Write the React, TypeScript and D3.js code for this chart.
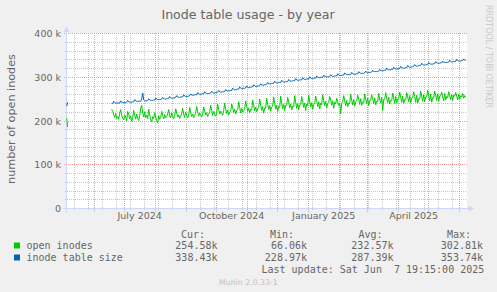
import React from "react";
import * as d3 from "d3";

const W = 497;
const H = 292;

const END = new Date(Date.UTC(2025, 5, 7, 19, 15));
const START = new Date(END.getTime() - 400 * 864e5);
const SERIES_START = new Date(Date.UTC(2024, 5, 18));
const EARLY_START = new Date(Date.UTC(2024, 4, 4));
const FIRST_MINOR = new Date(Date.UTC(2024, 4, 12));

const title = "Inode table usage - by year";
const yAxisLabel = "number of open inodes";
const seriesNames = ["open inodes", "inode table size"];
const seriesColors = ["#00CC00", "#0066B3"];

// values in thousands, one per day
const openEarly = [206, 186];
const sizeEarly = [234, 243];

const openInodes = [
  227, 222, 214, 208, 217, 206, 210,
  204, 218, 226, 212, 207, 203, 214,
  209, 200, 222, 215, 205, 211, 199,
  207, 224, 213, 204, 216, 206, 201,
  212, 229, 236, 218, 209, 221, 208,
  213, 205, 227, 214, 203, 198, 210,
  206, 219, 209, 201, 196, 212, 204,
  208, 222, 213, 205, 215, 207, 210,
  216, 226, 211, 207, 219, 210, 205,
  213, 228, 218, 209, 214, 206, 211,
  217, 229, 215, 208, 220, 212, 207,
  214, 231, 219, 210, 216, 208, 213,
  219, 233, 221, 211, 218, 213, 209,
  216, 232, 222, 214, 219, 210, 215,
  221, 236, 224, 213, 222, 215, 211,
  218, 238, 226, 216, 223, 217, 213,
  224, 241, 228, 217, 225, 214, 220,
  222, 239, 230, 219, 227, 216, 223,
  226, 244, 231, 218, 229, 220, 224,
  228, 246, 233, 222, 230, 219, 227,
  225, 248, 235, 223, 232, 221, 229,
  231, 250, 236, 224, 233, 218, 230,
  229, 252, 238, 226, 235, 223, 232,
  234, 255, 240, 227, 236, 222, 233,
  231, 257, 241, 228, 238, 224, 236,
  236, 254, 242, 230, 239, 225, 234,
  233, 258, 243, 229, 240, 226, 237,
  238, 256, 244, 231, 241, 224, 239,
  235, 259, 245, 232, 242, 227, 238,
  240, 257, 246, 233, 244, 228, 241,
  237, 260, 247, 235, 245, 230, 240,
  242, 256, 248, 236, 246, 229, 243,
  239, 252, 244, 236, 241, 217, 240,
  244, 258, 246, 235, 247, 233, 241,
  240, 261, 248, 237, 249, 234, 244,
  246, 259, 250, 238, 251, 236, 243,
  242, 262, 249, 240, 252, 235, 247,
  248, 260, 251, 239, 253, 237, 245,
  244, 263, 250, 241, 254, 224, 249,
  250, 265, 252, 242, 255, 239, 247,
  246, 264, 253, 240, 256, 241, 251,
  252, 266, 254, 243, 257, 240, 249,
  248, 265, 255, 244, 258, 242, 253,
  254, 267, 256, 243, 259, 241, 251,
  250, 268, 257, 245, 260, 244, 255,
  256, 270, 258, 246, 261, 243, 253,
  252, 268, 259, 247, 262, 245, 257,
  258, 266, 255, 246, 263, 248, 256,
  253, 267, 258, 249, 260, 247, 259,
  257, 265, 256, 248, 261, 250, 258,
  255, 263, 252, 258, 254.6,
];

const tableSize = [
  240, 240, 245, 242, 241, 241, 241,
  241, 241, 246, 243, 242, 242, 242,
  242, 243, 247, 244, 243, 243, 243,
  244, 244, 249, 246, 245, 245, 245,
  245, 245, 250, 264, 248, 246, 246,
  246, 247, 251, 248, 247, 247, 247,
  248, 248, 253, 250, 249, 249, 249,
  249, 250, 254, 251, 250, 250, 251,
  251, 252, 256, 253, 252, 252, 253,
  253, 254, 258, 255, 254, 254, 255,
  255, 255, 260, 257, 256, 256, 256,
  257, 258, 262, 259, 259, 259, 260,
  260, 260, 265, 262, 261, 261, 262,
  262, 262, 267, 264, 263, 263, 263,
  263, 264, 268, 265, 264, 264, 265,
  265, 266, 270, 267, 266, 266, 267,
  267, 268, 272, 269, 269, 269, 269,
  270, 270, 275, 272, 271, 272, 272,
  273, 273, 278, 275, 274, 274, 275,
  275, 276, 280, 277, 276, 277, 277,
  278, 278, 283, 280, 279, 279, 280,
  280, 281, 285, 282, 282, 282, 283,
  283, 284, 288, 285, 285, 285, 286,
  286, 286, 291, 288, 287, 287, 288,
  288, 288, 293, 290, 289, 289, 290,
  290, 290, 295, 292, 291, 291, 292,
  292, 292, 297, 294, 293, 293, 294,
  294, 294, 299, 296, 295, 295, 296,
  296, 296, 301, 298, 297, 297, 298,
  298, 298, 303, 300, 299, 299, 300,
  300, 300, 305, 302, 301, 301, 301,
  301, 302, 306, 303, 302, 302, 303,
  303, 303, 308, 305, 304, 304, 304,
  305, 305, 310, 307, 306, 306, 306,
  306, 306, 311, 308, 307, 307, 307,
  308, 308, 313, 310, 309, 309, 309,
  309, 310, 314, 311, 310, 311, 311,
  311, 312, 316, 313, 313, 313, 313,
  313, 314, 318, 315, 315, 315, 315,
  316, 316, 321, 318, 317, 317, 317,
  318, 318, 323, 320, 319, 319, 319,
  320, 320, 325, 322, 321, 321, 321,
  322, 322, 327, 324, 323, 323, 324,
  324, 325, 329, 326, 325, 326, 326,
  327, 327, 332, 329, 328, 328, 328,
  329, 329, 334, 331, 330, 330, 330,
  331, 331, 336, 333, 332, 332, 332,
  333, 333, 337, 334, 334, 334, 334,
  334, 335, 339, 336, 335, 335, 336,
  336, 336, 341, 338, 337, 337, 337,
  338, 338, 342, 339, 338.4,
];

const yTicks = [0, 100, 200, 300, 400];
const yTickLabels = ["0", "100 k", "200 k", "300 k", "400 k"];
const legendHeaders = ["Cur:", "Min:", "Avg:", "Max:"];
const openStats = ["254.58k", "66.06k", "232.57k", "302.81k"];
const sizeStats = ["338.43k", "228.97k", "287.39k", "353.74k"];
const lastUpdate = "Last update: Sat Jun  7 19:15:00 2025";
const watermark = "Munin 2.0.33-1";
const rrdCredit = "RRDTOOL / TOBI OETIKER";

const FONT = "'DejaVu Sans', sans-serif";
const MONO = "'DejaVu Sans Mono', monospace";
const TEXT = "#666666";
const AXIS = "#CFD6F8";
const MINOR = "#c8c8c8";
const MAJOR = "#f39a9a";

export default function App() {
  const x = d3.scaleUtc().domain([START, END]).range([66.5, 466.5]);
  const y = d3.scaleLinear().domain([0, 400]).range([208.5, 33.5]);
  const left = 66.5, right = 466.5, top = 33, bottom = 208.5;

  const toPts = (arr: number[], s: Date) =>
    arr.map((v, i) => [d3.utcDay.offset(s, i), v] as [Date, number]);
  const line = d3
    .line<[Date, number]>()
    .x((d) => x(d[0]))
    .y((d) => y(d[1]));

  const px = (v: number) => Math.round(v - 0.5) + 0.5;

  const minorX: Date[] = [];
  for (let t = FIRST_MINOR; t < END; t = d3.utcDay.offset(t, 14)) minorX.push(t);
  const majorX = d3.utcMonth.range(START, END);
  const labelMonths = d3.utcMonth.every(3)!.range(START, END);
  const minorY = d3.range(20, 400, 20).filter((v) => v % 100 !== 0);
  const fmt = d3.utcFormat("%B %Y");

  const statCols = [217.5, 307, 393.5, 483];
  const headerX = [181, 270, 358.5, 447];

  return (
    <svg width={W} height={H} style={{ display: "block", position: "absolute", left: 0, top: 0 }}>
      <rect x={0} y={0} width={W} height={H} fill="#F0F0F0" />
      <rect x={67} y={33} width={400} height={175.5} fill="#FFFFFF" />

      <g shapeRendering="crispEdges">
        {minorX.map((t, i) => (
          <line key={"mx" + i} x1={px(x(t))} x2={px(x(t))} y1={top} y2={bottom + 2}
            stroke={MINOR} strokeWidth={1} strokeDasharray="1 1" />
        ))}
        {minorY.map((v, i) => (
          <line key={"my" + i} x1={left - 2} x2={right} y1={px(y(v))} y2={px(y(v))}
            stroke={MINOR} strokeWidth={1} strokeDasharray="1 1" />
        ))}
        {majorX.map((t, i) => (
          <line key={"Mx" + i} x1={px(x(t))} x2={px(x(t))} y1={top} y2={bottom + 3}
            stroke={MAJOR} strokeWidth={1} strokeDasharray="1 1" />
        ))}
        {yTicks.filter((v) => v > 0).map((v, i) => (
          <line key={"My" + i} x1={left - 3} x2={right} y1={px(y(v))} y2={px(y(v))}
            stroke={MAJOR} strokeWidth={1} strokeDasharray="1 1" />
        ))}
        <line x1={62.5} x2={470} y1={bottom} y2={bottom} stroke={AXIS} />
        <line x1={left} x2={left} y1={212.5} y2={29} stroke={AXIS} />
      </g>
      <polygon points={`${left - 3},32 ${left + 3},32 ${left},26.5`} fill={AXIS} />
      <polygon points={`468.5,${bottom - 3} 468.5,${bottom + 3} 474,${bottom}`} fill={AXIS} />

      {yTicks.map((v, i) => (
        <text key={"yl" + i} x={61} y={y(v) + 3.5} textAnchor="end" fontFamily={FONT}
          fontSize={9.5} fill={TEXT}>{yTickLabels[i]}</text>
      ))}
      {labelMonths.map((m, i) => (
        <text key={"xl" + i} x={x(d3.utcDay.offset(m, 15))} y={219} textAnchor="middle"
          fontFamily={FONT} fontSize={9.5} fill={TEXT}>{fmt(m)}</text>
      ))}

      <path d={line(toPts(openEarly, EARLY_START)) || ""} fill="none" stroke={seriesColors[0]} strokeWidth={1} />
      <path d={line(toPts(openInodes, SERIES_START)) || ""} fill="none" stroke={seriesColors[0]} strokeWidth={1} />
      <path d={line(toPts(sizeEarly, EARLY_START)) || ""} fill="none" stroke={seriesColors[1]} strokeWidth={1} />
      <path d={line(toPts(tableSize, SERIES_START)) || ""} fill="none" stroke={seriesColors[1]} strokeWidth={1} />

      <text x={248} y={19} textAnchor="middle" fontFamily={FONT} fontSize={12.6} fill={TEXT}>{title}</text>
      <text transform="translate(15,119) rotate(-90)" textAnchor="middle" fontFamily={FONT}
        fontSize={11.2} fill={TEXT}>{yAxisLabel}</text>
      <text transform="translate(485.5,56.5) rotate(90)" textAnchor="middle" fontFamily={FONT}
        fontSize={8} fill="#c8c8c8">{rrdCredit}</text>

      {legendHeaders.map((h, i) => (
        <text key={"h" + i} x={headerX[i]} y={237.5} fontFamily={MONO} fontSize={10} fill={TEXT}>{h}</text>
      ))}
      {[openStats, sizeStats].map((row, r) => (
        <g key={"row" + r}>
          <rect x={14} y={242.5 + r * 12} width={6} height={6} fill={seriesColors[r]} />
          <text x={26.5} y={249.3 + r * 12} fontFamily={MONO} fontSize={10} fill={TEXT}
            style={{ whiteSpace: "pre" }}>{seriesNames[r]}</text>
          {row.map((v, i) => (
            <text key={i} x={statCols[i]} y={249.3 + r * 12} textAnchor="end" fontFamily={MONO}
              fontSize={10} fill={TEXT}>{v}</text>
          ))}
        </g>
      ))}
      <text x={261.5} y={273} fontFamily={MONO} fontSize={10} fill={TEXT}
        style={{ whiteSpace: "pre" }}>{lastUpdate}</text>
      <text x={219} y={284.5} fontFamily={FONT} fontSize={7.8} fill="#c0c0c0">{watermark}</text>
    </svg>
  );
}
